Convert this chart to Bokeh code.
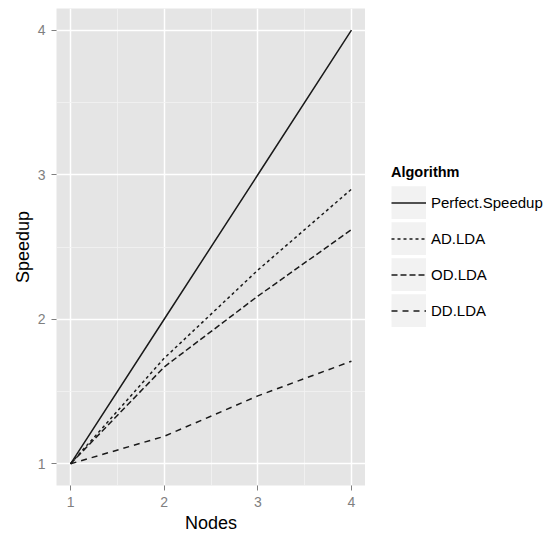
from bokeh.plotting import figure
from bokeh.layouts import row
from bokeh.models import Range1d, FixedTicker, Legend, LegendItem
from bokeh.embed import file_html
from bokeh.resources import INLINE

nodes = [1, 2, 3, 4]
perfect_speedup = [1, 2, 3, 4]
ad_lda = [1, 1.73, 2.34, 2.90]
od_lda = [1, 1.67, 2.16, 2.62]
dd_lda = [1, 1.19, 1.47, 1.71]

series_names = ["Perfect.Speedup", "AD.LDA", "OD.LDA", "DD.LDA"]
series_values = [perfect_speedup, ad_lda, od_lda, dd_lda]
series_dash = ["solid", "3 3", "6 3", "6 5"]

tick_values = [1, 2, 3, 4]
minor_tick_values = [1.5, 2.5, 3.5]

FONT = "Liberation Sans"
LINE_COLOR = "#1a1a1a"
NAN = float("nan")

p = figure(width=365, height=535,
           x_range=Range1d(0.85, 4.15), y_range=Range1d(0.85, 4.15),
           output_backend="svg", toolbar_location=None,
           min_border_left=56, min_border_top=8, min_border_bottom=50,
           min_border_right=0)

p.background_fill_color = "#E5E5E5"
p.border_fill_color = "white"
p.outline_line_color = None

for ax in (p.xaxis[0], p.yaxis[0]):
    ax.ticker = FixedTicker(ticks=tick_values, minor_ticks=minor_tick_values)
    ax.axis_line_color = None
    ax.major_tick_line_color = "#7F7F7F"
    ax.major_tick_line_width = 1
    ax.major_tick_out = 5
    ax.major_tick_in = 0
    ax.minor_tick_out = 0
    ax.minor_tick_in = 0
    ax.major_label_text_font = FONT
    ax.major_label_text_font_size = "14px"
    ax.major_label_text_color = "#7F7F7F"
    ax.major_label_standoff = 6
    ax.axis_label_text_font = FONT
    ax.axis_label_text_font_size = "18px"
    ax.axis_label_text_font_style = "normal"
    ax.axis_label_text_color = "black"

p.xaxis.axis_label = "Nodes"
p.yaxis.axis_label = "Speedup"
p.xaxis.axis_label_standoff = 3
p.yaxis.axis_label_standoff = 2

for g in (p.xgrid[0], p.ygrid[0]):
    g.grid_line_color = "white"
    g.grid_line_width = 1.5
    g.minor_grid_line_color = "#F2F2F2"
    g.minor_grid_line_width = 0.8

for vals, dash in zip(series_values, series_dash):
    p.line(nodes, vals, line_color=LINE_COLOR, line_width=1.5, line_dash=dash)

# legend panel (ggplot-style keys on grey95 background)
lg = figure(width=184, height=535, x_range=Range1d(0, 1), y_range=Range1d(0, 1),
            output_backend="svg", toolbar_location=None,
            x_axis_type=None, y_axis_type=None,
            min_border_left=0, min_border_right=0, min_border_top=0,
            min_border_bottom=0)
lg.grid.visible = False
lg.outline_line_color = None
lg.background_fill_color = "white"
lg.border_fill_color = "white"

key_bg = lg.rect(x=[NAN], y=[NAN], width=1, height=1, fill_color="#F2F2F2",
                 line_color="#F2F2F2", line_width=7, line_join="miter")
items = []
for name, dash in zip(series_names, series_dash):
    r = lg.line(x=[NAN, NAN], y=[NAN, NAN], line_color=LINE_COLOR,
                line_width=1.5, line_dash=dash)
    items.append(LegendItem(label=name, renderers=[key_bg, r]))

legend = Legend(items=items, location=(26, 158))
legend.title = "Algorithm"
legend.title_text_font = FONT
legend.title_text_font_size = "14.5px"
legend.title_text_font_style = "bold"
legend.title_text_color = "black"
legend.title_standoff = 6
legend.label_text_font = FONT
legend.label_text_font_size = "15px"
legend.label_text_color = "black"
legend.glyph_width = 35
legend.glyph_height = 33
legend.spacing = 3
legend.label_standoff = 5
legend.padding = 0
legend.margin = 0
legend.border_line_color = None
legend.background_fill_alpha = 0
lg.add_layout(legend, "center")

layout = row(p, lg)
open("out.html", "w").write(file_html(layout, INLINE))
